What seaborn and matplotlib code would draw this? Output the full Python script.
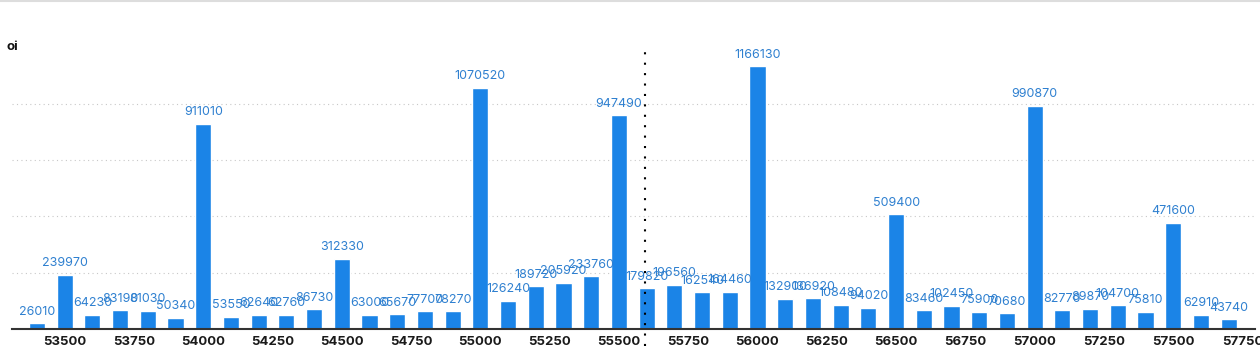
import pandas as pd
import matplotlib.pyplot as plt
import seaborn as sns

# strike prices and open interest
strikes = list(range(53400, 57800, 100))
oi = [26010, 239970, 64230, 83190, 81030, 50340, 911010, 53550, 62640, 62760,
      86730, 312330, 63000, 65670, 77700, 78270, 1070520, 126240, 189720, 205920,
      233760, 947490, 179820, 196560, 162540, 164460, 1166130, 132900, 136920, 108480,
      94020, 509400, 83460, 102450, 75900, 70680, 990870, 82770, 89870, 104700,
      75810, 471600, 62910, 43740]
tick_strikes = [53500, 53750, 54000, 54250, 54500, 54750, 55000, 55250,
                55500, 55750, 56000, 56250, 56500, 56750, 57000, 57250, 57500, 57750]
spot = 55595

df = pd.DataFrame({'strike': strikes, 'oi': oi})

sns.set_theme(style='white')
plt.rcParams['font.family'] = ['Inter', 'DejaVu Sans']

fig = plt.figure(figsize=(12.6, 3.56), dpi=100)
ax = fig.add_axes([12 / 1260, 27 / 356, 1243 / 1260, 284 / 356])

bar_color = '#1b84e7'
sns.barplot(data=df, x='strike', y='oi', native_scale=True, color=bar_color,
            saturation=1, width=0.58, ax=ax)

for s, v in zip(strikes, oi):
    ax.annotate(f'{v}', (s, v), xytext=(0, 4), textcoords='offset points',
                ha='center', va='bottom', fontsize=9, color='#2f80d0')

ax.set_xlim(53310, 57795)
ax.set_ylim(0, 1260000)
ax.set_yticks([250000, 500000, 750000, 1000000])
ax.set_yticklabels([])
ax.yaxis.grid(True, linestyle=(0, (1, 3)), color='#c8c8c8', linewidth=0.8)
ax.set_xticks(tick_strikes)
ax.set_xticklabels([str(t) for t in tick_strikes], fontsize=9.5, fontweight='bold', color='#1a1a1a')
ax.tick_params(axis='x', length=0, pad=5)
ax.tick_params(axis='y', length=0)
ax.set_xlabel('')
ax.set_ylabel('')
for side in ['top', 'right', 'left']:
    ax.spines[side].set_visible(False)
ax.spines['bottom'].set_color('#333333')
ax.spines['bottom'].set_linewidth(1.5)

ax.axvline(spot, ymin=-0.06, ymax=0.98, color='black', linestyle=(0, (1, 4)),
           linewidth=1.5, clip_on=False)

fig.text(6 / 1260, 1 - 47 / 356, 'oi', fontsize=9.5, fontweight='bold', va='center', color='#111111')
fig.add_artist(plt.Line2D([0, 1], [0.997, 0.997], color='#dddddd', linewidth=1.5))

fig.savefig('out.png', dpi=100)
